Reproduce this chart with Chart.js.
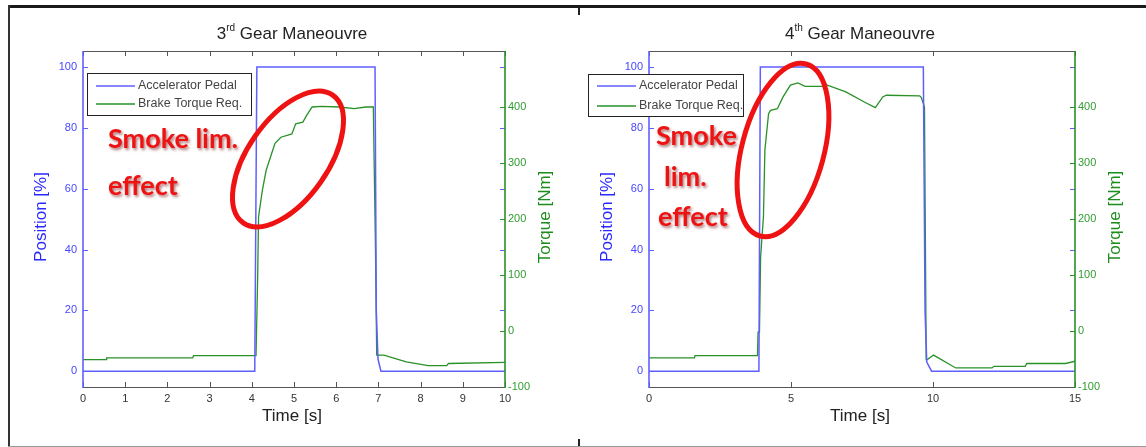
<!DOCTYPE html>
<html>
<head>
<meta charset="utf-8">
<script src="https://cdn.jsdelivr.net/npm/chart.js@4.4.1/dist/chart.umd.min.js"></script>
<style>
  body { margin: 0; background: #fff; }
  #sheet { position: relative; width: 1146px; height: 447px; overflow: hidden; background: #fff; }
  #sheet canvas { position: absolute; top: 0; }
  .rule { position: absolute; }
</style>
</head>
<body>
<div id="sheet">
  <canvas id="gear3" width="578" height="447" style="left:0"></canvas>
  <canvas id="gear4" width="568" height="447" style="left:578px"></canvas>
  <div class="rule" style="left:8px;top:5px;width:1138px;height:3px;background:#1a1a1a"></div>
  <div class="rule" style="left:8px;top:5px;width:2px;height:442px;background:#333"></div>
  <div class="rule" style="left:8px;top:446px;width:1138px;height:1px;background:#999"></div>
  <div class="rule" style="left:578px;top:8px;width:2px;height:7px;background:#222"></div>
  <div class="rule" style="left:578px;top:439px;width:2px;height:7px;background:#222"></div>
</div>
<script>
// 3rd gear run
var gear3PedalTime = [0, 4.07, 4.12, 6.92, 6.95, 6.99, 7.06, 10];
var gear3Pedal = [0, 0, 100, 100, 20, 4, 0, 0];
var gear3TorqueTime = [0, 0.55, 0.56, 2.6, 2.62, 4.1, 4.14, 4.16, 4.25, 4.34, 4.47, 4.55, 4.69, 4.95, 5.04, 5.21, 5.30, 5.43, 5.65, 6.08, 6.43, 6.70, 6.88, 6.93, 6.96, 7.13, 7.66, 8.18, 8.62, 8.66, 10];
var gear3Torque = [-51, -51, -48, -48, -44, -44, 100, 204, 251, 287, 317, 335, 346, 352, 370, 373, 385, 400, 401, 400, 397, 400, 400, 150, -43, -43, -55, -62, -62, -58, -56];

// 4th gear run
var gear4PedalTime = [0, 3.87, 3.92, 9.66, 9.72, 9.78, 9.95, 15];
var gear4Pedal = [0, 0, 100, 100, 20, 3, 0, 0];
var gear4TorqueTime = [0, 1.6, 1.62, 3.82, 3.84, 3.89, 3.93, 4.03, 4.08, 4.21, 4.28, 4.52, 4.72, 4.98, 5.24, 5.50, 6.15, 6.28, 6.93, 7.58, 7.97, 8.23, 8.36, 9.53, 9.59, 9.70, 9.76, 9.80, 10.02, 10.80, 12.08, 12.15, 13.25, 13.30, 14.67, 15];
var gear4Torque = [-48, -48, -44, -44, -2, -2, 132, 204, 323, 388, 394, 397, 418, 439, 443, 437, 437, 439, 427, 409, 399, 418, 421, 420, 417, 400, -51, -51, -43, -66, -66, -63, -63, -58, -58, -54];

var seriesLabels = ['Accelerator Pedal', 'Brake Torque Req.'];
var positionTicks = [0, 20, 40, 60, 80, 100];
var torqueTicks = [-100, 0, 100, 200, 300, 400];
var gear3TimeTicks = [0, 1, 2, 3, 4, 5, 6, 7, 8, 9, 10];
var gear4TimeTicks = [0, 5, 10, 15];

var BLUE = 'rgb(95,95,255)';
var GREEN = 'rgb(40,145,40)';
var RED = 'rgb(238,18,18)';
var FONT = '"Liberation Sans", Arial, sans-serif';

function zip(t, v) {
    return t.map(function(x, i) { return {x: x, y: v[i]}; });
}

function fixTicks(list) {
    return function(scale) {
        scale.ticks = list.map(function(v) { return {value: v}; });
    };
}

function line(ctx, x1, y1, x2, y2) {
    ctx.beginPath();
    ctx.moveTo(x1, y1);
    ctx.lineTo(x2, y2);
    ctx.stroke();
}

// matlab style frame, inward ticks, titles, boxed legend and the red notes
var matlabLook = {
    id: 'matlabLook',
    afterDraw: function(chart, args, o) {
        var ctx = chart.ctx, a = chart.chartArea;
        var sx = chart.scales.x, sy = chart.scales.y, sy1 = chart.scales.y1;
        ctx.save();

        // tick marks
        ctx.lineWidth = 1;
        ctx.strokeStyle = '#555';
        sx.ticks.forEach(function(t) {
            var px = Math.round(sx.getPixelForValue(t.value)) + 0.5;
            line(ctx, px, a.bottom, px, a.bottom - 5);
            line(ctx, px, a.top, px, a.top + 5);
        });
        ctx.strokeStyle = BLUE;
        sy.ticks.forEach(function(t) {
            var py = Math.round(sy.getPixelForValue(t.value)) + 0.5;
            line(ctx, a.left, py, a.left + 5, py);
            line(ctx, a.right, py, a.right - 5, py);
        });
        ctx.strokeStyle = GREEN;
        sy1.ticks.forEach(function(t) {
            var py = Math.round(sy1.getPixelForValue(t.value)) + 0.5;
            line(ctx, a.right, py, a.right - 5, py);
        });

        // box
        ctx.strokeStyle = '#555';
        line(ctx, a.left, a.top + 0.5, a.right, a.top + 0.5);
        line(ctx, a.left, a.bottom + 0.5, a.right, a.bottom + 0.5);
        ctx.lineWidth = 1.6;
        ctx.strokeStyle = BLUE;
        line(ctx, a.left, a.top, a.left, a.bottom + 1);
        ctx.strokeStyle = GREEN;
        line(ctx, a.right, a.top, a.right, a.bottom + 1);

        // title with superscript ordinal
        var cx = (a.left + a.right) / 2 - 2;
        ctx.fillStyle = '#222';
        ctx.textBaseline = 'alphabetic';
        ctx.font = '17px ' + FONT;
        var w1 = ctx.measureText(o.title[0]).width;
        var w3 = ctx.measureText(o.title[2]).width;
        ctx.font = '10px ' + FONT;
        var w2 = ctx.measureText(o.title[1]).width;
        var tx = cx - (w1 + w2 + w3) / 2;
        ctx.font = '17px ' + FONT;
        ctx.textAlign = 'left';
        ctx.fillText(o.title[0], tx, 39);
        ctx.fillText(o.title[2], tx + w1 + w2, 39);
        ctx.font = '10px ' + FONT;
        ctx.fillText(o.title[1], tx + w1, 31);

        // axis titles
        ctx.textAlign = 'center';
        ctx.textBaseline = 'middle';
        ctx.font = '17px ' + FONT;
        ctx.fillStyle = '#222';
        ctx.fillText('Time [s]', cx, 416);
        var my = (a.top + a.bottom) / 2 - 2;
        ctx.save();
        ctx.translate(a.left - 42, my);
        ctx.rotate(-Math.PI / 2);
        ctx.fillStyle = 'rgb(40,40,255)';
        ctx.fillText('Position [%]', 0, 0);
        ctx.restore();
        ctx.save();
        ctx.translate(a.right + 40, my);
        ctx.rotate(-Math.PI / 2);
        ctx.fillStyle = 'rgb(30,140,30)';
        ctx.fillText('Torque [Nm]', 0, 0);
        ctx.restore();

        // legend
        var L = o.legend;
        ctx.fillStyle = '#fff';
        ctx.fillRect(L.x, L.y, L.w, L.h);
        ctx.lineWidth = 1;
        ctx.strokeStyle = '#222';
        ctx.strokeRect(L.x + 0.5, L.y + 0.5, L.w, L.h);
        ctx.font = '12.5px ' + FONT;
        ctx.textAlign = 'left';
        chart.data.datasets.forEach(function(ds, i) {
            var ly = L.rows[i];
            ctx.strokeStyle = ds.borderColor;
            ctx.lineWidth = 1.5;
            line(ctx, L.x + 9, ly, L.x + 48, ly);
            ctx.fillStyle = '#444';
            ctx.fillText(ds.label, L.x + 51, ly);
        });

        // red notes
        var N = o.note;
        ctx.strokeStyle = RED;
        ctx.lineWidth = 5;
        ctx.beginPath();
        ctx.ellipse(N.cx, N.cy, N.rx, N.ry, N.rot * Math.PI / 180, 0, Math.PI * 2);
        ctx.stroke();
        ctx.font = 'bold 27px Lato, "Open Sans", sans-serif';
        ctx.textBaseline = 'alphabetic';
        ctx.shadowColor = 'rgba(110,0,0,0.55)';
        ctx.shadowBlur = 3;
        ctx.shadowOffsetX = 1.5;
        ctx.shadowOffsetY = 1.5;
        ctx.fillStyle = RED;
        N.lines.forEach(function(t) { ctx.fillText(t[0], t[1], t[2]); });

        ctx.restore();
    }
};

function makeChart(id, cfg) {
    return new Chart(document.getElementById(id), {
        type: 'line',
        data: {
            datasets: [{
                label: seriesLabels[0],
                data: zip(cfg.pedalTime, cfg.pedal),
                yAxisID: 'y',
                borderColor: BLUE,
                borderWidth: 1.5
            }, {
                label: seriesLabels[1],
                data: zip(cfg.torqueTime, cfg.torque),
                yAxisID: 'y1',
                borderColor: GREEN,
                borderWidth: 1.3
            }]
        },
        options: {
            responsive: false,
            animation: false,
            elements: {point: {radius: 0}, line: {tension: 0}},
            layout: {padding: {top: 51, bottom: 20, left: 0, right: 0}},
            plugins: {
                legend: {display: false},
                tooltip: {enabled: false},
                matlabLook: cfg.look
            },
            scales: {
                x: {
                    type: 'linear', min: 0, max: cfg.tMax,
                    afterBuildTicks: fixTicks(cfg.timeTicks),
                    afterFit: function(s) { s.height = 40; },
                    grid: {display: false, drawTicks: false}, border: {display: false},
                    ticks: {padding: 5, color: '#333', font: {family: FONT, size: 11}, maxRotation: 0}
                },
                y: {
                    position: 'left', min: -5.2, max: 105.3,
                    afterBuildTicks: fixTicks(positionTicks),
                    afterFit: function(s) { s.width = cfg.leftW; },
                    grid: {display: false, drawTicks: false}, border: {display: false},
                    ticks: {padding: 6, color: 'rgb(70,70,255)', font: {family: FONT, size: 11}}
                },
                y1: {
                    position: 'right', min: -100, max: 500,
                    afterBuildTicks: fixTicks(torqueTicks),
                    afterFit: function(s) { s.width = cfg.rightW; },
                    grid: {display: false, drawTicks: false}, border: {display: false},
                    ticks: {padding: 3, color: 'rgb(50,155,50)', font: {family: FONT, size: 11}}
                }
            }
        },
        plugins: [matlabLook]
    });
}

makeChart('gear3', {
    pedalTime: gear3PedalTime, pedal: gear3Pedal,
    torqueTime: gear3TorqueTime, torque: gear3Torque,
    tMax: 10, timeTicks: gear3TimeTicks, leftW: 83, rightW: 73,
    look: {
        title: ['3', 'rd', ' Gear Maneouvre'],
        legend: {x: 87, y: 73, w: 164, h: 42, rows: [86, 104]},
        note: {cx: 288, cy: 159, rx: 78, ry: 40, rot: -55,
               lines: [['Smoke lim.', 108, 148], ['effect', 108, 195]]}
    }
});

makeChart('gear4', {
    pedalTime: gear4PedalTime, pedal: gear4Pedal,
    torqueTime: gear4TorqueTime, torque: gear4Torque,
    tMax: 15, timeTicks: gear4TimeTicks, leftW: 71, rightW: 71,
    look: {
        title: ['4', 'th', ' Gear Maneouvre'],
        legend: {x: 10, y: 74, w: 155, h: 42, rows: [86, 106]},
        note: {cx: 205, cy: 150, rx: 89, ry: 41, rot: -75,
               lines: [['Smoke', 78, 145], ['lim.', 86, 186], ['effect', 80, 226]]}
    }
});
</script>
</body>
</html>
